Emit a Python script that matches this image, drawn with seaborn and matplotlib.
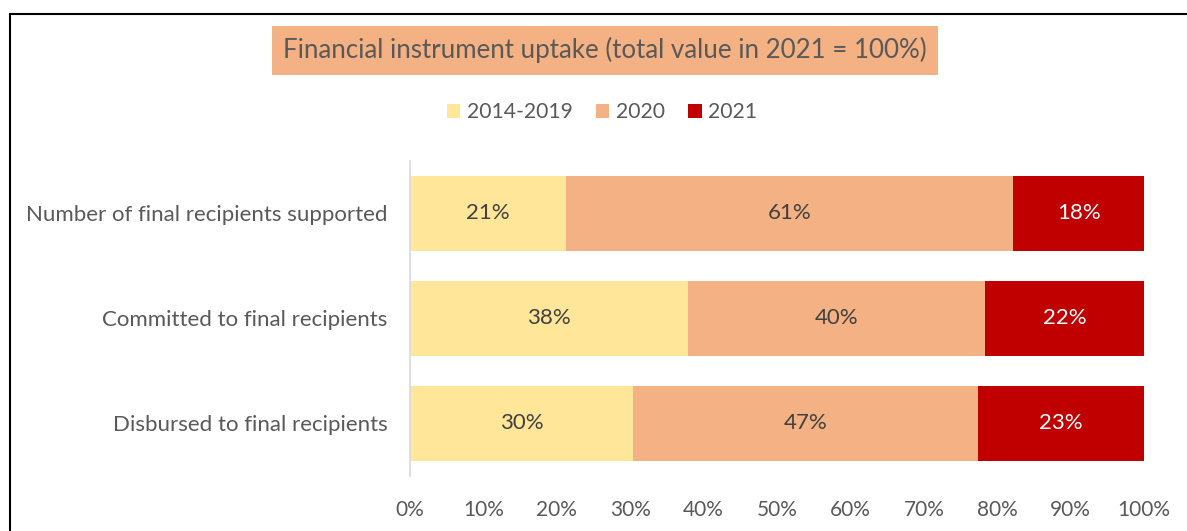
import matplotlib
matplotlib.use("Agg")
import matplotlib.pyplot as plt
import numpy as np
import pandas as pd
import seaborn as sns
from matplotlib.patches import Patch, Rectangle

categories = [
    "Number of final recipients supported",
    "Committed to final recipients",
    "Disbursed to final recipients",
]
series_names = ["2014-2019", "2020", "2021"]
share_2014_2019 = [21.3, 37.9, 30.4]
share_2020 = [60.9, 40.4, 47.0]
share_2021 = [17.8, 21.7, 22.6]
tick_values = [0, 10, 20, 30, 40, 50, 60, 70, 80, 90, 100]

colors = ["#FFE699", "#F4B183", "#C00000"]
text_colors = ["#404040", "#404040", "#FFFFFF"]
grey = "#595959"

sns.set_theme(style="white")
plt.rcParams["font.family"] = ["Lato", "DejaVu Sans"]

df = pd.DataFrame({
    "category": categories,
    "2014-2019": share_2014_2019,
    "2020": share_2020,
    "2021": share_2021,
})
parts = df[series_names].to_numpy()
cum = np.cumsum(parts, axis=1)

fig = plt.figure(figsize=(11.87, 5.31), dpi=100)
ax = fig.add_axes([0.3454, 0.1036, 0.9638 - 0.3454, 0.6968 - 0.1036])

# stacked bars: draw the cumulative totals from the right-most segment down
for i in reversed(range(len(series_names))):
    sns.barplot(x=cum[:, i], y=df["category"], orient="h", color=colors[i],
                width=0.705, saturation=1, ax=ax, linewidth=0)

for r in range(len(categories)):
    for i in range(len(series_names)):
        start = cum[r, i] - parts[r, i]
        ax.text(start + parts[r, i] / 2, r, f"{round(parts[r, i])}%",
                ha="center", va="center", fontsize=16, color=text_colors[i])

ax.set_xlim(0, 100)
ax.set_ylim(2.5, -0.5)
ax.set_xticks(tick_values)
ax.set_xticklabels([f"{v}%" for v in tick_values])
ax.set_xlabel("")
ax.set_ylabel("")
ax.tick_params(axis="x", length=0, labelsize=15, labelcolor=grey, pad=17)
ax.tick_params(axis="y", length=0, labelsize=16, labelcolor=grey, pad=16)
for side in ["top", "right", "bottom"]:
    ax.spines[side].set_visible(False)
ax.spines["left"].set_color("#D9D9D9")
ax.spines["left"].set_linewidth(1.2)

fig.text(0.5097, 0.905, "Financial instrument uptake (total value in 2021 = 100%)",
         ha="center", va="center", fontsize=18.6, color=grey,
         bbox=dict(facecolor="#F4B183", edgecolor="none", pad=8))

handles = [Patch(facecolor=c, edgecolor="none") for c in colors]
fig.legend(handles, series_names, loc="center", bbox_to_anchor=(0.507, 0.789),
           ncol=3, frameon=False, fontsize=15.2, labelcolor=grey,
           handlelength=0.65, handleheight=0.65, handletextpad=0.3, columnspacing=1.1)

fig.patches.append(Rectangle((10 / 1187, -0.1), 1.2, 1 - 14 / 531 + 0.1,
                             transform=fig.transFigure, fill=False,
                             edgecolor="black", linewidth=1.5))

fig.savefig("out.png", dpi=100)
